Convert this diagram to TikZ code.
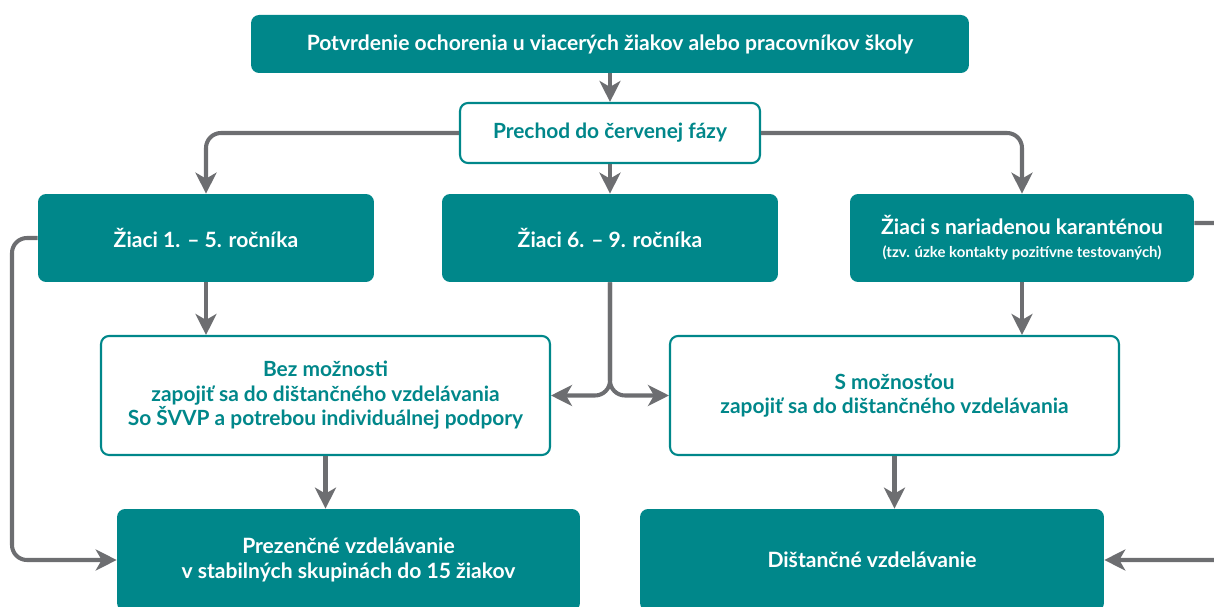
\documentclass[tikz,border=0pt]{standalone}
\usepackage{fontspec}
\setmainfont{Lato}
\usetikzlibrary{arrows.meta}

\definecolor{Teal}{HTML}{00878A}
\definecolor{Arrow}{HTML}{6D6E71}

\begin{document}
\begin{tikzpicture}[x=0.02cm, y=-0.02cm,
  darkbox/.style={rectangle, rounded corners=0.16cm, fill=Teal, text=white, align=center, font=\fontsize{12}{14}\selectfont\bfseries},
  lightbox/.style={rectangle, rounded corners=0.16cm, draw=Teal, line width=1.2pt, fill=white, text=Teal, align=center, font=\fontsize{11.9}{14}\selectfont\bfseries},
  conn/.style={draw=Arrow, line width=2.3pt, rounded corners=0.3cm, -{Stealth[length=0.42cm, width=0.42cm, inset=0.12cm]}}]

 \useasboundingbox (0,0) rectangle (1214,607);

 %%%%%%%%%% Boxes %%%%%%%%%%
 \node[darkbox, minimum width=14.36cm, minimum height=1.16cm] (potvrdenie) at (610,44) {Potvrdenie ochorenia u viacerých žiakov alebo pracovníkov školy};
 \node[lightbox, minimum width=6cm, minimum height=1.2cm] (prechod) at (610,133) {Prechod do červenej fázy};

 \node[darkbox, minimum width=6.72cm, minimum height=1.76cm] (ziaci15) at (206,238) {Žiaci 1. – 5. ročníka};
 \node[darkbox, minimum width=6.72cm, minimum height=1.76cm] (ziaci69) at (610,238) {Žiaci 6. – 9. ročníka};
 \node[darkbox, minimum width=6.88cm, minimum height=1.76cm] (karantena) at (1022,238) {Žiaci s nariadenou karanténou\\[-1pt]{\fontsize{8.5}{10}\selectfont (tzv. úzke kontakty pozitívne testovaných)}};

 \node[lightbox, minimum width=8.98cm, minimum height=2.38cm] (bez) at (325.5,395.5) {Bez možnosti\\zapojiť sa do dištančného vzdelávania\\So ŠVVP a potrebou individuálnej podpory};
 \node[lightbox, minimum width=8.98cm, minimum height=2.38cm] (smoz) at (894.5,395.5) {S možnosťou\\zapojiť sa do dištančného vzdelávania};

 \node[darkbox, minimum width=9.26cm, minimum height=2.04cm] (prezencne) at (348.5,560) {Prezenčné vzdelávanie\\v stabilných skupinách do 15 žiakov};
 \node[darkbox, minimum width=9.28cm, minimum height=2.04cm] (distancne) at (872,560) {Dištančné vzdelávanie};

 %%%%%%%%%% Helper points %%%%%%%%%%
 \coordinate (lft) at (12,238);
 \coordinate (rgt) at (1240,223);

 %%%%%%%%%% Connectors %%%%%%%%%%
 \draw[conn] (potvrdenie) -- (prechod);
 \draw[conn] (prechod.west) -| (ziaci15.north);
 \draw[conn] (prechod) -- (ziaci69);
 \draw[conn] (prechod.east) -| (karantena.north);

 \draw[conn] (ziaci15.south) -- (ziaci15.south |- bez.north);
 \draw[conn] (ziaci69.south) |- (bez.east);
 \draw[conn] (ziaci69.south) |- (smoz.west);
 \draw[conn] (karantena.south) -- (karantena.south |- smoz.north);

 \draw[conn] (bez.south) -- (bez.south |- prezencne.north);
 \draw[conn] (smoz.south) -- (smoz.south |- distancne.north);

 % loops out to the sides
 \draw[conn] (ziaci15.west) -- (lft) |- (prezencne.west);
 \draw[conn] (karantena.east |- rgt) -- (rgt) |- (distancne.east);

\end{tikzpicture}
\end{document}
